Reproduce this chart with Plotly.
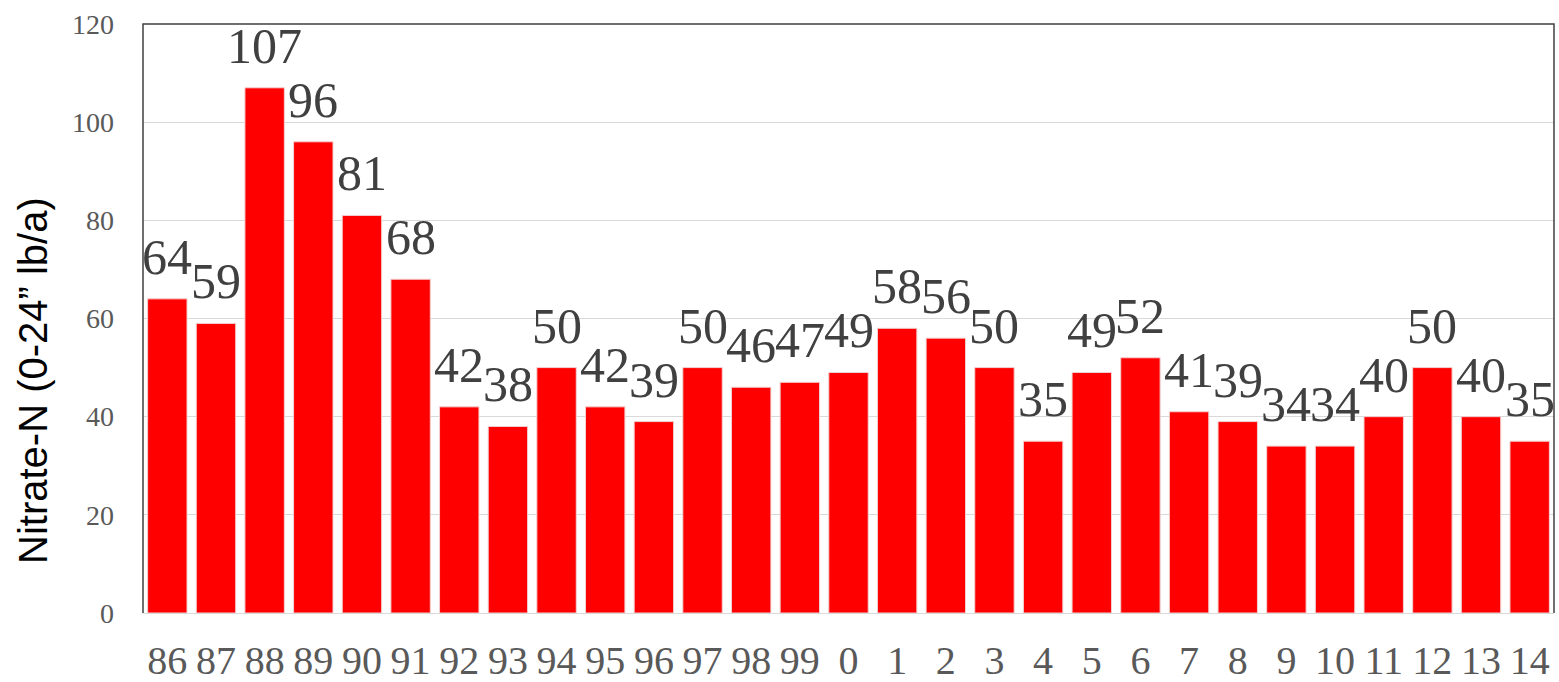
import plotly.graph_objects as go

years = ["86", "87", "88", "89", "90", "91", "92", "93", "94", "95", "96", "97", "98", "99",
         "0", "1", "2", "3", "4", "5", "6", "7", "8", "9", "10", "11", "12", "13", "14"]
nitrate = [64, 59, 107, 96, 81, 68, 42, 38, 50, 42, 39, 50, 46, 47,
           49, 58, 56, 50, 35, 49, 52, 41, 39, 34, 34, 40, 50, 40, 35]
y_ticks = [0, 20, 40, 60, 80, 100, 120]

serif = "Liberation Serif, Times New Roman, serif"

fig = go.Figure(go.Bar(
    x=years, y=nitrate,
    marker=dict(color="#FF0000", line=dict(color="#F3D0D0", width=1)),
    cliponaxis=False,
))

# value labels: category index positions on the category axis
annotations = [
    dict(x=i, y=v, xref="x", yref="y", text=str(v), showarrow=False,
         yanchor="bottom", xanchor="center", yshift=12,
         font=dict(family=serif, size=50, color="#404040"))
    for i, v in enumerate(nitrate)
]

plot_w = 1559 - 143 - 5
plot_h = 682 - 24 - 69
annotations.append(dict(
    x=(33 - 143) / plot_w, y=(682 - 69 - 381) / plot_h, xref="paper", yref="paper",
    text="Nitrate-N (0-24\u201d lb/a)",
    showarrow=False, textangle=-90, xanchor="center", yanchor="middle",
    font=dict(family="Liberation Sans, Arial, sans-serif", size=40, color="#000000"),
))

fig.update_layout(
    width=1559, height=682,
    margin=dict(l=143, r=5, t=24, b=69),
    paper_bgcolor="white", plot_bgcolor="white",
    bargap=0.19,
    showlegend=False,
    xaxis=dict(
        type="category",
        categoryorder="array", categoryarray=years,
        range=[-0.5, len(years) - 0.5],
        tickfont=dict(family=serif, size=40, color="#595959"),
        tickangle=0, automargin=False,
        ticks="", showline=False, showgrid=False,
        ticklabelstandoff=20,
    ),
    yaxis=dict(
        range=[0, 120], tickvals=y_ticks,
        tickfont=dict(family=serif, size=28, color="#595959"),
        showgrid=True, gridcolor="#D9D9D9", gridwidth=1,
        zeroline=True, zerolinecolor="#D9D9D9", zerolinewidth=1,
        ticks="", ticklabelstandoff=28, automargin=False,
    ),
    annotations=annotations,
    shapes=[dict(type="path", xref="paper", yref="paper",
                 path="M 0 0 L 0 1 L 1 1 L 1 0",
                 line=dict(color="#404040", width=1.5))],
)

fig.write_html("out.html", config={"displayModeBar": False},
               post_script="document.body.style.margin='0';document.body.style.overflow='hidden';")
